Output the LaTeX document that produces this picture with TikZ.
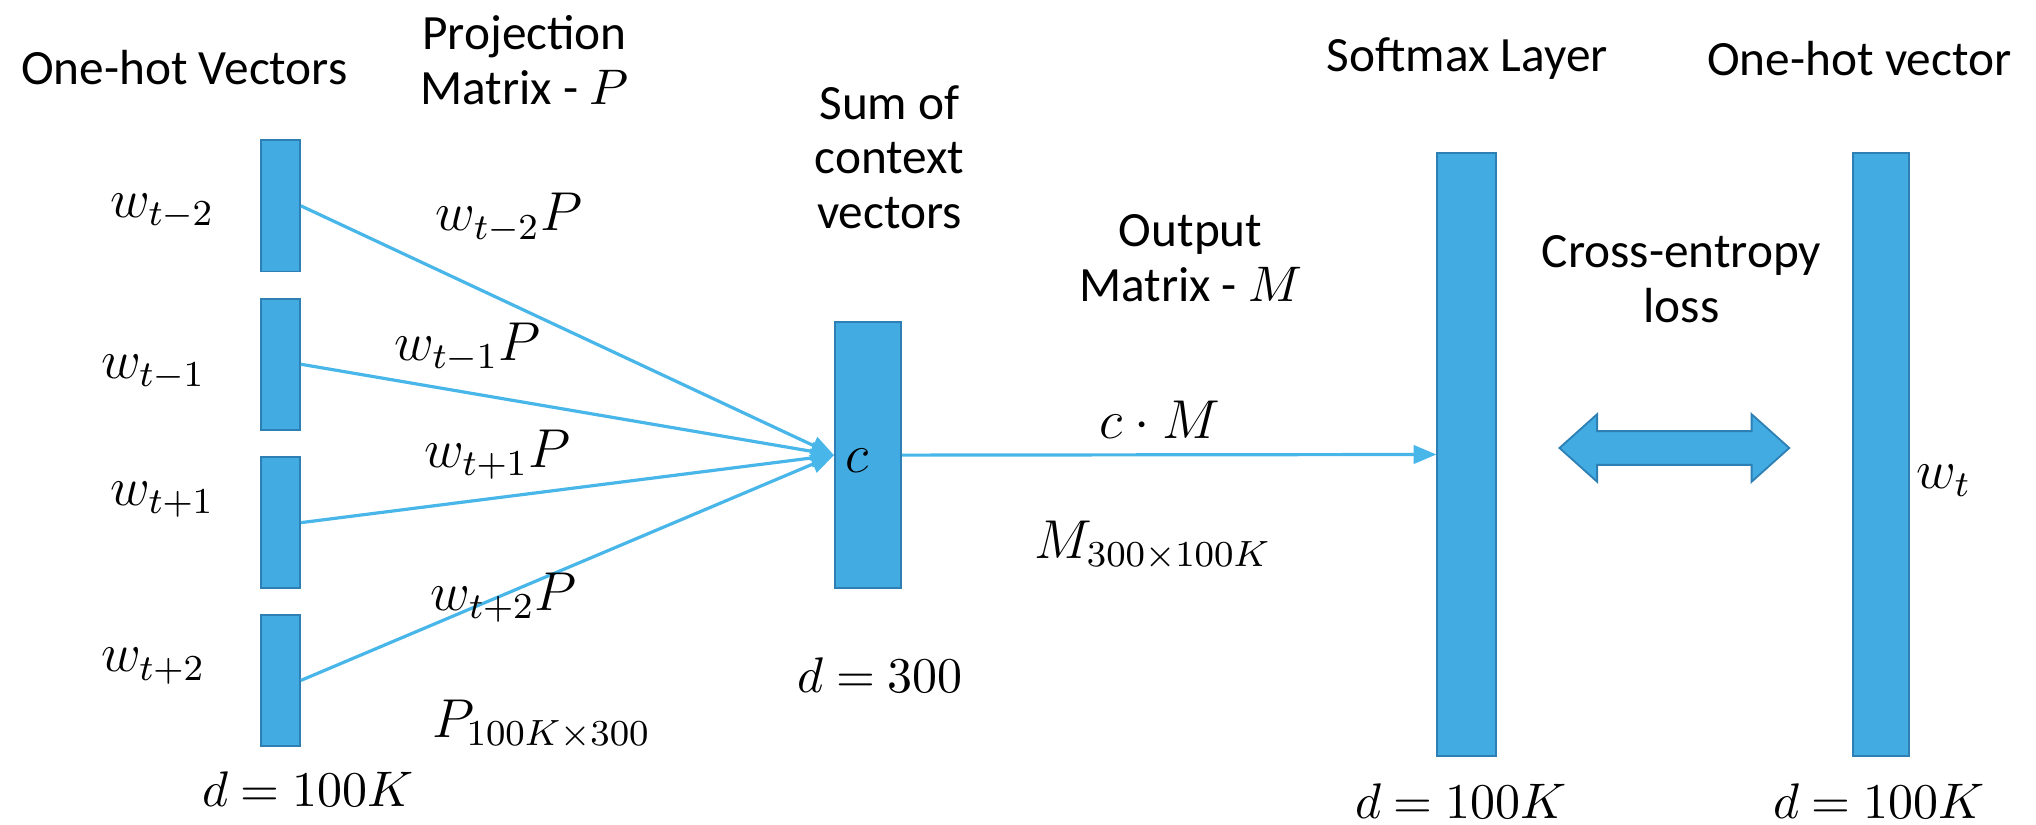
\documentclass[tikz,border=0pt]{standalone}
\usepackage{fontspec}
\setmainfont{Carlito}
\usetikzlibrary{arrows.meta}
\definecolor{barfill}{RGB}{65,171,226}
\definecolor{barline}{RGB}{46,128,180}
\definecolor{conncol}{RGB}{72,182,232}
\newcommand\dimlabel[1]{{\thickmuskip=4.5mu\relax$#1$}}
\begin{document}
\begin{tikzpicture}[x=0.01cm,y=-0.01cm,
  bar/.style={draw=barline, line width=0.4pt, fill=barfill, inner sep=0pt, rectangle},
  conn/.style={draw=conncol, line width=0.7pt, -{Triangle[length=5pt,width=4pt]}},
  lbl/.style={font=\fontsize{10.8}{12}\selectfont, align=center, inner sep=0pt},
  mlbl/.style={font=\fontsize{12}{14}\selectfont, inner sep=0pt},
  dlbl/.style={font=\fontsize{10.5}{12}\selectfont, inner sep=0pt}]
\useasboundingbox (0,0) rectangle (1568,635);
% bars
\node[bar, minimum width=0.3cm, minimum height=1.01cm] (v1) at (216,158.5) {};
\node[bar, minimum width=0.3cm, minimum height=1.01cm] (v2) at (216,280.5) {};
\node[bar, minimum width=0.3cm, minimum height=1.01cm] (v3) at (216,402.5) {};
\node[bar, minimum width=0.3cm, minimum height=1.01cm] (v4) at (216,524) {};
\node[bar, minimum width=0.51cm, minimum height=2.05cm] (c) at (668.5,350.5) {};
\node[bar, minimum width=0.45cm, minimum height=4.64cm] (sm) at (1129.5,350) {};
\node[bar, minimum width=0.43cm, minimum height=4.64cm] (oh) at (1448.5,350) {};
% connectors
\draw[conn] (v1.east) -- (c.west);
\draw[conn] (v2.east) -- (c.west);
\draw[conn] (v3.east) -- (c.west);
\draw[conn] (v4.east) -- (c.west);
\draw[conn] (c.east) -- (sm.west);
% double arrow
\draw[bar] (1201,345) -- (1230,319) -- (1230,332) -- (1349,332) -- (1349,319) -- (1378,345)
  -- (1349,371) -- (1349,358) -- (1230,358) -- (1230,371) -- cycle;
% titles
\node[lbl] (t1) at (142,52) {One-hot Vectors};
\node[lbl] (t2) at (404,46) {Projection\\Matrix - $P$};
\node[lbl] (t3) at (685,121) {Sum of\\context\\vectors};
\node[lbl] (t4) at (917,199) {Output\\Matrix - $M$};
\node[lbl] (t5) at (1130,45) {Softmax Layer};
\node[lbl] (t6) at (1432,45) {One-hot vector};
\node[lbl] (t7) at (1295,215) {Cross-entropy\\loss};
% math labels
\node[mlbl] (w1) at (125,163) {$w_{t-2}$};
\node[mlbl] (w2) at (118,287) {$w_{t-1}$};
\node[mlbl] (w3) at (125,385) {$w_{t+1}$};
\node[mlbl] (w4) at (118,513) {$w_{t+2}$};
\node[mlbl] (p1) at (392,168) {$w_{t-2}P$};
\node[mlbl] (p2) at (360,268) {$w_{t-1}P$};
\node[mlbl] (p3) at (383,350) {$w_{t+1}P$};
\node[mlbl] (p4) at (388,460) {$w_{t+2}P$};
\node[mlbl] (pm) at (417,558) {$P_{100K\times 300}$};
\node[mlbl] (cl) at (660,355) {$c$};
\node[mlbl] (cm) at (893,323) {$c\cdot M$};
\node[mlbl] (mm) at (888,420) {$M_{300\times 100K}$};
\node[mlbl] (wt) at (1497,370) {$w_t$};
\node[dlbl] (d1) at (237,608) {\dimlabel{d=100K}};
\node[dlbl] (d2) at (678,520) {\dimlabel{d=300}};
\node[dlbl] (d3) at (1125,617) {\dimlabel{d=100K}};
\node[dlbl] (d4) at (1447,617) {\dimlabel{d=100K}};
\end{tikzpicture}
\end{document}
